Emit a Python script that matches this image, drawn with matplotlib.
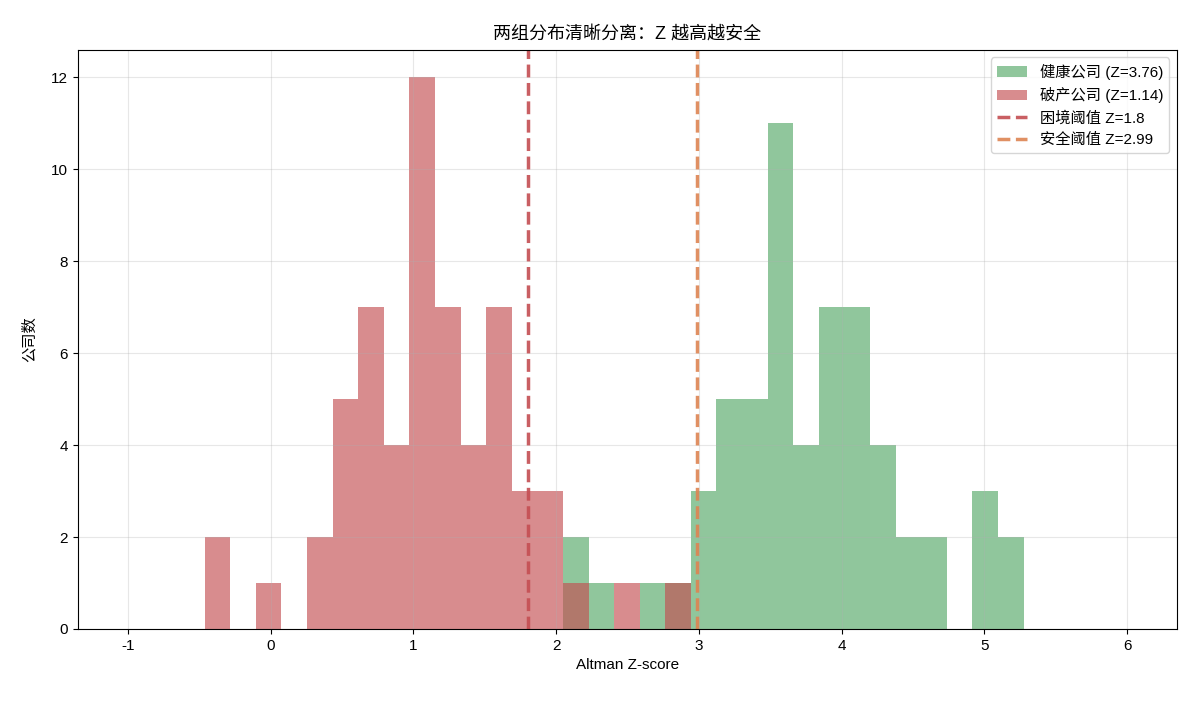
import numpy as np
import matplotlib
matplotlib.use("Agg")
import matplotlib.pyplot as plt

plt.rcParams["font.family"] = ["Liberation Sans", "Noto Sans CJK SC", "DejaVu Sans"]
plt.rcParams["axes.unicode_minus"] = False

# 共享分箱（32 个箱，宽约 0.179）
BIN_LO, BIN_HI, N_BINS = -0.4625, 5.275, 32
# 每个箱的公司数
healthy_counts = [0, 0, 0, 0, 0, 0, 0, 0, 0, 0, 0, 0, 0, 0, 2, 1,
                  0, 1, 1, 3, 5, 5, 11, 4, 7, 7, 4, 2, 2, 0, 3, 2]
bankrupt_counts = [2, 0, 1, 0, 2, 5, 7, 4, 12, 7, 4, 7, 3, 3, 1, 0,
                   1, 0, 1, 0, 0, 0, 0, 0, 0, 0, 0, 0, 0, 0, 0, 0]
healthy_mean = 3.76
bankrupt_mean = 1.14
distress_z = 1.8
safe_z = 2.99
x_ticks = [-1, 0, 1, 2, 3, 4, 5, 6]

edges = np.linspace(BIN_LO, BIN_HI, N_BINS + 1)
centers = (edges[:-1] + edges[1:]) / 2

fig, ax = plt.subplots(figsize=(11.96, 7.02), dpi=100)
fig.subplots_adjust(left=0.065, right=0.984, top=0.929, bottom=0.104)

ax.hist(centers, bins=edges, weights=healthy_counts, color="#55a868", alpha=0.65,
        label=f"健康公司 (Z={healthy_mean})")
ax.hist(centers, bins=edges, weights=bankrupt_counts, color="#c44e52", alpha=0.65,
        label=f"破产公司 (Z={bankrupt_mean})")
ax.axvline(distress_z, color="#c44e52", ls="--", lw=2.5, alpha=0.9,
           label=f"困境阈值 Z={distress_z}")
ax.axvline(safe_z, color="#dd8452", ls="--", lw=2.5, alpha=0.9,
           label=f"安全阈值 Z={safe_z}")

ax.set_xlim(-1.352, 6.349)
ax.set_ylim(0, 12.6)
ax.set_xticks(x_ticks)
ax.set_xticklabels([str(t) for t in x_ticks])
ax.tick_params(labelsize=11)
ax.grid(True, alpha=0.3)
ax.set_xlabel("Altman Z-score", fontsize=11)
ax.set_ylabel("公司数", fontsize=11, labelpad=10)
ax.set_title("两组分布清晰分离：Z 越高越安全", fontsize=13, pad=8)
ax.legend(loc="upper right", fontsize=11)

fig.savefig("out.png", dpi=100)
